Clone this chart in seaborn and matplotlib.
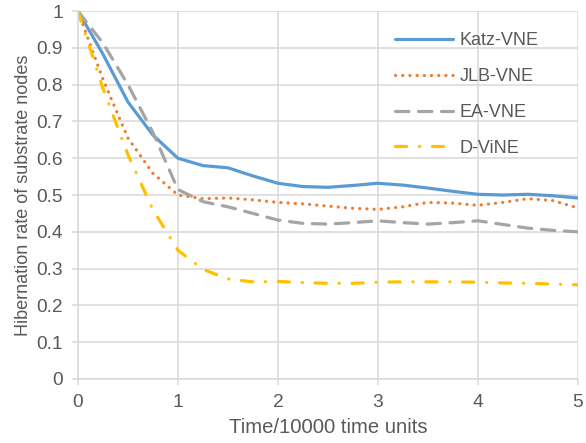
import pandas as pd
import matplotlib
matplotlib.use('Agg')
import matplotlib.pyplot as plt
import seaborn as sns

# time axis (x 10000 time units)
time = [0, 0.25, 0.5, 0.75, 1.0, 1.25, 1.5, 1.75, 2.0, 2.25, 2.5,
        2.75, 3.0, 3.25, 3.5, 3.75, 4.0, 4.25, 4.5, 4.75, 5.0]

katz_vne = [1.0, 0.883, 0.753, 0.663, 0.60, 0.58, 0.574, 0.552, 0.532, 0.523, 0.521,
            0.526, 0.532, 0.527, 0.519, 0.51, 0.502, 0.50, 0.502, 0.498, 0.492]
jlb_vne = [1.0, 0.815, 0.655, 0.559, 0.50, 0.49, 0.492, 0.487, 0.48, 0.476, 0.47,
           0.464, 0.461, 0.468, 0.48, 0.478, 0.472, 0.48, 0.49, 0.485, 0.465]
ea_vne = [1.0, 0.913, 0.80, 0.67, 0.515, 0.482, 0.468, 0.45, 0.432, 0.423, 0.421,
          0.425, 0.43, 0.425, 0.421, 0.425, 0.43, 0.42, 0.41, 0.404, 0.40]
d_vine = [1.0, 0.79, 0.61, 0.46, 0.35, 0.298, 0.272, 0.264, 0.265, 0.262, 0.26,
          0.26, 0.263, 0.264, 0.264, 0.264, 0.263, 0.261, 0.26, 0.258, 0.256]

names = ['Katz-VNE', 'JLB-VNE', 'EA-VNE', 'D-ViNE']
colors = ['#5B9BD5', '#ED7D31', '#A5A5A5', '#FFC000']

xticks = [0, 1, 2, 3, 4, 5]
yticks = [0, 0.1, 0.2, 0.3, 0.4, 0.5, 0.6, 0.7, 0.8, 0.9, 1]
ytick_labels = ['0', '0.1', '0.2', '0.3', '0.4', '0.5', '0.6', '0.7', '0.8', '0.9', '1']

rows = []
for n, vals in zip(names, [katz_vne, jlb_vne, ea_vne, d_vine]):
    for t, v in zip(time, vals):
        rows.append({'time': t, 'rate': v, 'method': n})
df = pd.DataFrame(rows)

sns.set_theme(style='whitegrid')
plt.rcParams['font.family'] = ['Liberation Sans', 'DejaVu Sans']
plt.rcParams['lines.dash_capstyle'] = 'round'
plt.rcParams['lines.solid_capstyle'] = 'round'

txt = '#595959'
fig = plt.figure(figsize=(5.86, 4.43), dpi=100)
ax = fig.add_axes([0.133, 0.1445, 0.853, 0.8305])

dash_map = {'Katz-VNE': '', 'JLB-VNE': (0.05, 2.2), 'EA-VNE': (4.2, 3),
            'D-ViNE': (3.5, 4, 0.05, 4)}
sns.lineplot(data=df, x='time', y='rate', hue='method', style='method',
             palette=dict(zip(names, colors)), dashes=dash_map,
             linewidth=2.3, ax=ax, sort=False, estimator=None, legend=False)

ax.set_xlim(0, 5)
ax.set_ylim(0, 1)
ax.set_xticks(xticks)
ax.set_xticklabels([str(x) for x in xticks])
ax.set_yticks(yticks)
ax.set_yticklabels(ytick_labels)
ax.grid(True, color='#D9D9D9', linewidth=1.1)
ax.set_facecolor('white')
for s in ['top', 'right']:
    ax.spines[s].set_visible(False)
for s in ['left', 'bottom']:
    ax.spines[s].set_color('#D9D9D9')
    ax.spines[s].set_linewidth(1.1)
ax.tick_params(axis='both', which='major', length=4, width=1.1, color='#D9D9D9',
               labelsize=13.8, labelcolor=txt, pad=7, bottom=True, left=True)
ax.set_xlabel('Time/10000 time units', fontsize=14.6, color=txt, labelpad=5)
ax.set_ylabel('Hibernation rate of substrate nodes', fontsize=13, color=txt, labelpad=3)

handles = ax.get_lines()[:4]
leg = ax.legend(handles, names, loc='upper left', bbox_to_anchor=(0.634, 0.942),
                frameon=False, fontsize=13, handlelength=3.2, handletextpad=0.38,
                labelspacing=1.04, borderaxespad=0, borderpad=0)
for t in leg.get_texts():
    t.set_color(txt)

fig.savefig('out.png', dpi=100)
